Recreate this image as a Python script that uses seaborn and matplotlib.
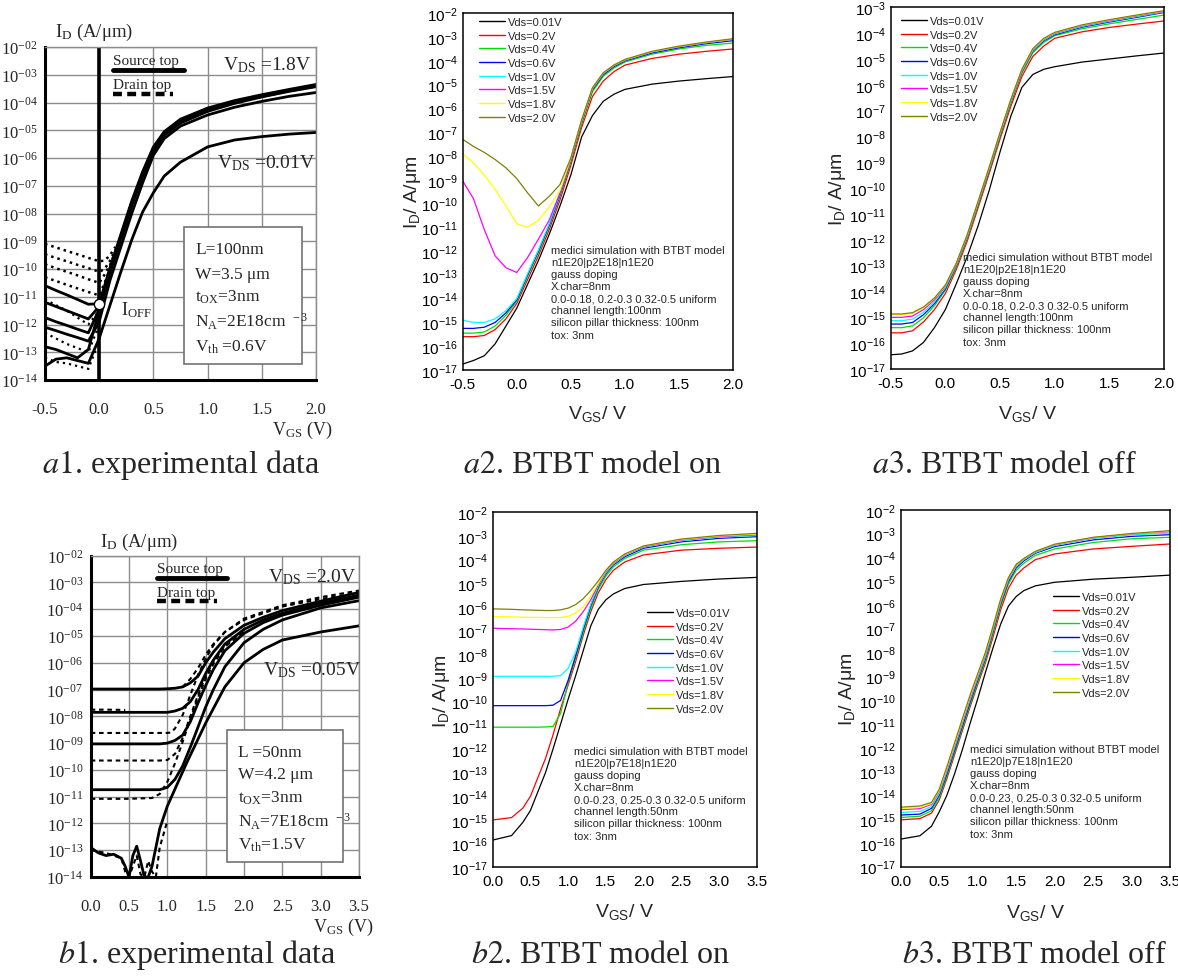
import numpy as np
import pandas as pd
import matplotlib
matplotlib.use("Agg")
import matplotlib.pyplot as plt
import seaborn as sns
from matplotlib.lines import Line2D
from matplotlib.patches import Rectangle
from matplotlib.ticker import NullLocator

sns.set_style("white")
plt.rcParams["font.family"] = ["Liberation Sans", "DejaVu Sans"]
plt.rcParams["mathtext.fontset"] = "stix"

W, H = 1178, 979
SERIF = "Liberation Serif"

# ---------------------------------------------------------------- data
vds_labels = ["Vds=0.01V", "Vds=0.2V", "Vds=0.4V", "Vds=0.6V",
              "Vds=1.0V", "Vds=1.5V", "Vds=1.8V", "Vds=2.0V"]
vds_colors = ["#000000", "#ff0000", "#00e000", "#0000ff",
              "#00ffff", "#ff00ff", "#ffff00", "#808000"]

# a2 / a3 : L = 100 nm, log10(I_D)
x_a = [-0.5, -0.4, -0.3, -0.2, -0.1, 0.0, 0.1, 0.2, 0.3, 0.4,
       0.5, 0.6, 0.7, 0.8, 0.9, 1.0, 1.25, 1.5, 1.75, 2.0]
a2_logI = [
    [-16.75, -16.6, -16.4, -15.9, -15.15, -14.4, -13.4, -12.4, -11.3, -10.1, -8.8, -7.2, -6.3, -5.7, -5.4, -5.2, -4.98, -4.85, -4.75, -4.66],
    [-15.6, -15.6, -15.55, -15.3, -14.85, -14.2, -13.2, -12.2, -11.1, -9.85, -8.4, -6.8, -5.5, -4.85, -4.45, -4.18, -3.9, -3.72, -3.6, -3.5],
    [-15.45, -15.45, -15.4, -15.15, -14.7, -14.1, -13.05, -12.05, -10.95, -9.7, -8.25, -6.65, -5.3, -4.65, -4.3, -4.05, -3.72, -3.5, -3.35, -3.25],
    [-15.25, -15.25, -15.2, -15.0, -14.6, -14.05, -13.0, -12.0, -10.9, -9.62, -8.18, -6.58, -5.22, -4.58, -4.24, -4.0, -3.67, -3.45, -3.28, -3.15],
    [-14.9, -15.0, -15.0, -14.85, -14.5, -14.0, -12.95, -11.95, -10.85, -9.57, -8.13, -6.53, -5.17, -4.53, -4.2, -3.97, -3.63, -3.41, -3.24, -3.1],
    [-9.05, -9.8, -11.1, -12.2, -12.7, -12.9, -12.27, -11.5, -10.7, -9.55, -8.12, -6.52, -5.16, -4.52, -4.19, -3.96, -3.62, -3.4, -3.23, -3.09],
    [-7.9, -8.3, -8.8, -9.4, -10.1, -10.85, -11.0, -10.7, -10.15, -9.45, -8.1, -6.5, -5.15, -4.51, -4.18, -3.95, -3.61, -3.39, -3.22, -3.08],
    [-7.3, -7.6, -7.85, -8.15, -8.5, -8.95, -9.55, -10.1, -9.7, -9.2, -8.08, -6.48, -5.13, -4.5, -4.17, -3.94, -3.6, -3.38, -3.21, -3.07],
]
a3_logI = [
    [-16.45, -16.42, -16.3, -15.97, -15.4, -14.7, -13.7, -12.65, -11.45, -10.1, -8.6, -7.2, -6.1, -5.6, -5.4, -5.3, -5.12, -5.0, -4.88, -4.77],
    [-15.6, -15.6, -15.52, -15.18, -14.7, -14.08, -13.15, -12.05, -10.75, -9.45, -8.1, -6.82, -5.68, -4.9, -4.5, -4.2, -3.95, -3.78, -3.65, -3.53],
    [-15.4, -15.4, -15.33, -15.02, -14.55, -13.95, -13.05, -11.95, -10.65, -9.35, -8.0, -6.7, -5.55, -4.76, -4.36, -4.1, -3.83, -3.64, -3.47, -3.3],
    [-15.26, -15.26, -15.2, -14.9, -14.47, -13.9, -13.0, -11.9, -10.6, -9.3, -7.95, -6.65, -5.5, -4.7, -4.3, -4.06, -3.77, -3.57, -3.39, -3.2],
    [-15.13, -15.13, -15.07, -14.8, -14.4, -13.85, -12.97, -11.87, -10.57, -9.27, -7.92, -6.62, -5.47, -4.67, -4.27, -4.03, -3.74, -3.54, -3.36, -3.18],
    [-15.0, -15.0, -14.95, -14.7, -14.32, -13.8, -12.94, -11.84, -10.54, -9.24, -7.89, -6.59, -5.44, -4.64, -4.24, -4.0, -3.71, -3.51, -3.33, -3.16],
    [-14.9, -14.9, -14.85, -14.63, -14.27, -13.77, -12.92, -11.82, -10.52, -9.22, -7.87, -6.57, -5.42, -4.62, -4.22, -3.98, -3.69, -3.49, -3.31, -3.14],
    [-14.87, -14.87, -14.82, -14.6, -14.25, -13.75, -12.9, -11.8, -10.5, -9.2, -7.85, -6.55, -5.4, -4.6, -4.2, -3.97, -3.68, -3.48, -3.3, -3.13],
]

# b2 / b3 : L = 50 nm, log10(I_D)
x_b = [0.0, 0.25, 0.4, 0.5, 0.6, 0.7, 0.8, 0.9, 1.0, 1.1,
       1.2, 1.3, 1.4, 1.5, 1.6, 1.75, 2.0, 2.5, 3.0, 3.5]
b2_logI = [
    [-15.85, -15.66, -15.1, -14.6, -13.8, -13.0, -12.0, -10.95, -9.9, -8.9, -7.85, -6.8, -6.1, -5.7, -5.45, -5.22, -5.05, -4.92, -4.82, -4.75],
    [-15.0, -14.9, -14.5, -14.0, -13.2, -12.4, -11.4, -10.3, -9.3, -8.3, -7.2, -6.2, -5.4, -4.85, -4.45, -4.1, -3.8, -3.6, -3.52, -3.47],
    [-11.08, -11.08, -11.08, -11.08, -11.08, -11.07, -11.05, -10.5, -9.2, -8.15, -7.05, -6.05, -5.25, -4.7, -4.3, -3.95, -3.6, -3.37, -3.25, -3.2],
    [-10.17, -10.17, -10.17, -10.17, -10.17, -10.17, -10.15, -9.95, -9.1, -8.05, -6.95, -5.95, -5.15, -4.6, -4.22, -3.88, -3.52, -3.25, -3.1, -3.03],
    [-8.93, -8.93, -8.93, -8.93, -8.93, -8.93, -8.93, -8.9, -8.6, -7.9, -6.85, -5.88, -5.1, -4.55, -4.18, -3.83, -3.47, -3.2, -3.05, -2.98],
    [-6.9, -6.92, -6.93, -6.94, -6.95, -6.96, -6.97, -6.95, -6.85, -6.6, -6.2, -5.7, -5.05, -4.5, -4.15, -3.8, -3.45, -3.17, -3.02, -2.95],
    [-6.4, -6.42, -6.43, -6.44, -6.44, -6.45, -6.45, -6.44, -6.4, -6.25, -6.0, -5.55, -5.0, -4.47, -4.12, -3.78, -3.43, -3.15, -3.0, -2.92],
    [-6.08, -6.1, -6.12, -6.13, -6.14, -6.15, -6.15, -6.12, -6.05, -5.9, -5.65, -5.3, -4.9, -4.45, -4.1, -3.76, -3.42, -3.13, -2.98, -2.89],
]
b3_logI = [
    [-15.84, -15.7, -15.3, -14.7, -14.0, -13.1, -12.1, -11.0, -9.95, -8.85, -7.8, -6.8, -6.05, -5.65, -5.4, -5.2, -5.05, -4.92, -4.84, -4.75],
    [-15.03, -14.98, -14.75, -14.2, -13.3, -12.3, -11.3, -10.3, -9.35, -8.45, -7.35, -6.2, -5.3, -4.75, -4.45, -4.1, -3.86, -3.65, -3.54, -3.44],
    [-14.93, -14.88, -14.65, -14.1, -13.2, -12.2, -11.2, -10.2, -9.25, -8.35, -7.2, -6.05, -5.12, -4.55, -4.25, -3.92, -3.65, -3.38, -3.22, -3.16],
    [-14.83, -14.79, -14.55, -14.0, -13.1, -12.1, -11.1, -10.1, -9.15, -8.25, -7.1, -5.95, -5.02, -4.45, -4.15, -3.83, -3.55, -3.27, -3.12, -3.05],
    [-14.72, -14.68, -14.47, -13.93, -13.0, -12.0, -11.0, -10.0, -9.08, -8.18, -7.04, -5.88, -4.95, -4.38, -4.1, -3.8, -3.5, -3.21, -3.06, -2.98],
    [-14.6, -14.56, -14.38, -13.85, -12.93, -11.93, -10.93, -9.93, -9.02, -8.1, -6.98, -5.83, -4.9, -4.33, -4.07, -3.77, -3.47, -3.18, -3.02, -2.92],
    [-14.55, -14.51, -14.34, -13.8, -12.87, -11.87, -10.87, -9.87, -8.96, -8.05, -6.94, -5.79, -4.87, -4.31, -4.06, -3.76, -3.46, -3.17, -3.01, -2.9],
    [-14.5, -14.45, -14.3, -13.75, -12.8, -11.8, -10.8, -9.8, -8.9, -8.0, -6.9, -5.75, -4.85, -4.3, -4.05, -3.75, -3.45, -3.16, -3.0, -2.88],
]

# a1 : experimental, L = 100 nm
a1_x = [-0.5, -0.4, -0.3, -0.2, -0.1, 0.0, 0.1, 0.2, 0.3, 0.4, 0.5, 0.6, 0.75, 1.0, 1.25, 1.5, 1.75, 2.0]
a1_source_logI = [
    [-10.6, -10.77, -10.93, -11.1, -11.27, -11.25, -9.95, -8.75, -7.55, -6.5, -5.6, -5.05, -4.6, -4.2, -3.93, -3.72, -3.53, -3.35],
    [-11.2, -11.35, -11.5, -11.65, -11.8, -11.35, -10.02, -8.82, -7.62, -6.56, -5.65, -5.1, -4.65, -4.25, -3.97, -3.75, -3.56, -3.38],
    [-11.75, -11.9, -12.03, -12.17, -12.3, -11.45, -10.08, -8.88, -7.68, -6.62, -5.7, -5.15, -4.7, -4.29, -4.0, -3.78, -3.58, -3.41],
    [-12.8, -12.9, -13.05, -13.2, -12.9, -11.5, -10.12, -8.92, -7.72, -6.66, -5.74, -5.18, -4.74, -4.32, -4.03, -3.8, -3.6, -3.43],
    [-12.1, -12.22, -12.35, -12.47, -12.6, -11.9, -10.4, -9.2, -8.0, -6.9, -5.9, -5.3, -4.85, -4.45, -4.17, -3.96, -3.78, -3.64],
    [-13.5, -13.25, -13.2, -13.3, -13.4, -12.5, -11.3, -10.1, -8.95, -7.95, -7.25, -6.65, -6.15, -5.6, -5.35, -5.23, -5.14, -5.08],
]
a1_drain_x = [-0.5, -0.4, -0.3, -0.2, -0.1, 0.0, 0.05, 0.1, 0.15]
a1_drain_logI = [
    [-9.1, -9.22, -9.35, -9.47, -9.6, -9.72, -9.7, -9.5, -9.2],
    [-9.47, -9.6, -9.72, -9.85, -9.97, -10.1, -10.0, -9.7, -9.3],
    [-9.83, -9.97, -10.1, -10.23, -10.37, -10.5, -10.2, -9.85, -9.35],
    [-10.3, -10.43, -10.57, -10.7, -10.83, -10.95, -10.5, -10.0, -9.45],
]
a1_drain_low_x = [-0.5, -0.4, -0.3, -0.2, -0.1, 0.0]
a1_drain_low_logI = [
    [-11.1, -11.3, -11.5, -11.75, -12.0, -11.5],
    [-12.3, -12.5, -12.7, -12.85, -13.0, -12.0],
    [-13.2, -13.35, -13.4, -13.5, -13.6, -12.6],
]
ioff_v, ioff_logI = 0.0, -11.27

# b1 : experimental, L = 50 nm
b1_x = [0.0, 0.5, 0.8, 0.9, 1.0, 1.1, 1.2, 1.3, 1.4, 1.5, 1.6, 1.75, 2.0, 2.25, 2.5, 3.0, 3.5]
b1_source_logI = [
    [-6.98, -6.98, -6.98, -6.98, -6.97, -6.95, -6.9, -6.75, -6.5, -6.0, -5.6, -5.1, -4.6, -4.3, -4.05, -3.7, -3.37],
    [-7.85, -7.85, -7.85, -7.85, -7.85, -7.8, -7.7, -7.45, -7.0, -6.4, -5.9, -5.3, -4.75, -4.4, -4.15, -3.78, -3.47],
    [-9.03, -9.03, -9.03, -9.03, -9.0, -8.9, -8.7, -8.2, -7.5, -6.85, -6.25, -5.55, -4.9, -4.5, -4.22, -3.85, -3.55],
    [-10.74, -10.74, -10.74, -10.74, -10.65, -10.35, -9.85, -9.15, -8.4, -7.65, -7.0, -6.15, -5.25, -4.75, -4.4, -3.95, -3.68],
]
b1_low_x = [0.0, 0.1, 0.2, 0.3, 0.4, 0.45, 0.5, 0.55, 0.6, 0.65, 0.7, 0.75, 0.8, 0.9, 1.0,
            1.25, 1.5, 1.75, 2.0, 2.25, 2.5, 3.0, 3.5]
b1_low_logI = [-12.9, -13.1, -13.2, -13.15, -13.3, -13.6, -14.0, -13.2, -12.85, -13.4, -14.0, -14.0,
               -13.6, -12.2, -11.35, -9.75, -8.25, -6.9, -6.0, -5.5, -5.15, -4.85, -4.62]
b1_drain = [
    ([0.0, 0.2, 0.45], [-7.75, -7.75, -7.76]),
    ([0.0, 0.5, 0.8, 1.0, 1.05, 1.1, 1.2, 1.3, 1.4, 1.5, 1.6, 1.75, 2.0, 2.5, 3.0, 3.5],
     [-8.62, -8.62, -8.62, -8.62, -8.6, -8.45, -7.95, -7.2, -6.45, -5.85, -5.35, -4.85, -4.4, -3.9, -3.62, -3.38]),
    ([0.0, 0.5, 0.9, 1.0, 1.1, 1.2, 1.3, 1.4, 1.5, 1.6, 1.75, 2.0],
     [-9.65, -9.65, -9.65, -9.63, -9.4, -8.8, -8.0, -7.2, -6.5, -5.95, -5.35, -4.8]),
    ([0.0, 0.5, 0.8, 0.9, 1.0, 1.1, 1.2, 1.3, 1.4, 1.5, 1.6, 1.75, 2.0],
     [-11.08, -11.08, -11.05, -10.9, -10.45, -9.75, -8.95, -8.1, -7.3, -6.6, -6.05, -5.4, -4.85]),
    ([1.2, 1.3, 1.4, 1.5, 1.6, 1.75, 2.0, 2.5, 3.0, 3.5],
     [-6.9, -6.6, -6.2, -5.7, -5.3, -4.85, -4.35, -3.85, -3.55, -3.3]),
    ([0.0, 0.2, 0.4, 0.45, 0.5, 0.55, 0.6, 0.65, 0.7, 0.75, 0.8, 0.85, 0.9, 1.0],
     [-13.0, -13.1, -13.3, -13.8, -14.0, -13.6, -13.2, -13.9, -14.0, -13.4, -13.8, -14.0, -12.9, -11.9]),
]

note_common = ["gauss doping", "X.char=8nm"]
a2_note = ["medici simulation with BTBT model", "n1E20|p2E18|n1E20"] + note_common + \
          ["0.0-0.18, 0.2-0.3 0.32-0.5 uniform", "channel length:100nm",
           "silicon pillar thickness: 100nm", "tox: 3nm"]
a3_note = ["medici simulation without BTBT model"] + a2_note[1:]
b2_note = ["medici simulation with BTBT model", "n1E20|p7E18|n1E20"] + note_common + \
          ["0.0-0.23, 0.25-0.3 0.32-0.5 uniform", "channel length:50nm",
           "silicon pillar thickness: 100nm", "tox: 3nm"]
b3_note = ["medici simulation without BTBT model"] + b2_note[1:]

# ---------------------------------------------------------------- figure
fig = plt.figure(figsize=(W / 100, H / 100), dpi=100)
fig.patch.set_facecolor("white")


def FX(x):
    return x / W


def FY(y):
    return 1 - y / H


def make_axes(l, t, r, b):
    return fig.add_axes([l / W, 1 - b / H, (r - l) / W, (b - t) / H])


def ftext(x, y, s, serif=False, **kw):
    if serif:
        kw.setdefault("family", SERIF)
    return fig.text(FX(x), FY(y), s, **kw)


def trace(ax, x, logI, **kw):
    sns.lineplot(x=np.asarray(x, float), y=10.0 ** np.asarray(logI, float), ax=ax,
                 estimator=None, sort=False, legend=False, **kw)


def sim_panel(box, x, curves, xlim, xticks, ylo, yhi, leg_xy, note_xy, note,
              ylab_x, xlab_y):
    ax = make_axes(*box)
    ax.set_yscale("log")
    df = pd.DataFrame({
        "Vgs": np.tile(np.asarray(x, float), len(curves)),
        "Id": 10.0 ** np.asarray(curves, float).ravel(),
        "Vds": np.repeat(vds_labels, len(x)),
    })
    sns.lineplot(data=df, x="Vgs", y="Id", hue="Vds", hue_order=vds_labels,
                 palette=vds_colors, estimator=None, linewidth=0.9, legend=False, ax=ax)
    ax.set_xlim(*xlim)
    ax.set_ylim(10.0 ** ylo, 10.0 ** yhi)
    ax.set_xticks(xticks)
    ax.set_xticklabels(["%.1f" % v for v in xticks])
    exps = list(range(ylo, yhi + 1))
    ax.set_yticks([10.0 ** e for e in exps])
    ax.set_yticklabels([r"$\mathregular{10^{%d}}$" % e for e in exps])
    ax.yaxis.set_minor_locator(NullLocator())
    ax.xaxis.set_minor_locator(NullLocator())
    ax.tick_params(axis="both", direction="out", length=2.5, width=0.9,
                   labelsize=11, colors="k")
    ax.tick_params(axis="y", pad=1)
    ax.tick_params(axis="x", pad=2.5)
    for sp in ax.spines.values():
        sp.set_color("k")
        sp.set_linewidth(1.1)
    ax.set_xlabel(r"$\mathregular{V_{GS}}$/ V", fontsize=14)
    ax.xaxis.set_label_coords(0.5, xlab_y)
    ax.set_ylabel(r"$\mathregular{I_D}$/ A/μm", fontsize=14)
    ax.yaxis.set_label_coords(ylab_x, 0.5)
    handles = [Line2D([], [], color=c, lw=1.0) for c in vds_colors]
    ax.legend(handles, vds_labels, loc="upper left",
              bbox_to_anchor=(FX(leg_xy[0]), FY(leg_xy[1])), bbox_transform=fig.transFigure,
              frameon=False, fontsize=8, handlelength=2.35, handletextpad=0.3,
              labelspacing=0.33, borderpad=0, borderaxespad=0)
    ftext(note_xy[0], note_xy[1], "\n".join(note), fontsize=8, va="top", ha="left",
          linespacing=1.26)
    return ax


def exp_axes(box, xlim, xticks):
    ax = make_axes(*box)
    ax.set_yscale("log")
    ax.set_xlim(*xlim)
    ax.set_ylim(1e-14, 1e-2)
    ax.set_xticks(xticks)
    ax.set_xticklabels(["%.1f" % v for v in xticks], fontfamily=SERIF, fontsize=12)
    exps = list(range(-14, -1))
    ax.set_yticks([10.0 ** e for e in exps])
    ax.set_yticklabels([r"$\mathregular{10^{-%02d}}$" % (-e) for e in exps],
                       fontfamily=SERIF, fontsize=12)
    ax.yaxis.set_minor_locator(NullLocator())
    ax.grid(True, which="major", color="0.55", lw=1.0)
    ax.set_axisbelow(True)
    ax.tick_params(axis="y", length=0, pad=5.5)
    ax.tick_params(axis="x", direction="out", length=6, width=2.5, pad=9)
    for side in ("left", "bottom"):
        ax.spines[side].set_color("k")
        ax.spines[side].set_linewidth(2.2)
    for side in ("top", "right"):
        ax.spines[side].set_color("0.55")
        ax.spines[side].set_linewidth(1.0)
    ax.set_xlabel("")
    ax.set_ylabel("")
    return ax


def info_box(x0, y0, x1, y1, lines, tx, ty):
    fig.add_artist(Rectangle((FX(x0), FY(y1)), (x1 - x0) / W, (y1 - y0) / H,
                             transform=fig.transFigure, facecolor="white",
                             edgecolor="0.45", lw=1.2, zorder=2))
    for s, yy in zip(lines, ty):
        ftext(tx, yy, s, serif=True, fontsize=12.5, va="center", ha="left", zorder=3)


def key(x, ys, xe_solid, xe_dash, ydash, ytext_s, ytext_d):
    ftext(x, ytext_s, "Source top", serif=True, fontsize=11, va="center")
    fig.add_artist(Line2D([FX(x), FX(xe_solid)], [FY(ys), FY(ys)],
                          transform=fig.transFigure, color="k", lw=3.5))
    ftext(x, ytext_d, "Drain top", serif=True, fontsize=11, va="center")
    fig.add_artist(Line2D([FX(x), FX(xe_dash)], [FY(ydash), FY(ydash)],
                          transform=fig.transFigure, color="k", lw=3.2,
                          linestyle=(0, (2.0, 1.2))))


# ---------------- a1
ax = exp_axes((45, 48, 316, 381), (-0.5, 2.0), [-0.5, 0.0, 0.5, 1.0, 1.5, 2.0])
ax.axvline(0.0, color="k", lw=2.6, zorder=1.5)
for c in a1_drain_logI:
    trace(ax, a1_drain_x, c, color="k", lw=1.8, linestyle=(0, (1, 1.6)))
for c in a1_drain_low_logI:
    trace(ax, a1_drain_low_x, c, color="k", lw=1.6, linestyle=(0, (1, 1.8)))
for c in a1_source_logI:
    trace(ax, a1_x, c, color="k", lw=2.0)
sns.scatterplot(x=[ioff_v], y=[10.0 ** ioff_logI], ax=ax, s=55, color="white",
                edgecolor="k", linewidth=1.0, zorder=6, legend=False)
ax.set_xlabel("")
ax.set_ylabel("")
ftext(55, 32, r"$\mathregular{I_D}$ (A/μm)", serif=True, fontsize=13.5, va="center")
ftext(272, 430, r"$\mathregular{V_{GS}}$ (V)", serif=True, fontsize=13, va="center")
ftext(223, 65, r"$\mathregular{V_{DS}}$ =1.8V", serif=True, fontsize=14, va="center")
ftext(217, 163, r"$\mathregular{V_{DS}}$ =0.01V", serif=True, fontsize=14, va="center")
ftext(121, 310, r"$\mathregular{I_{OFF}}$", serif=True, fontsize=13, va="center")
key(113, 71, 184, 173, 95, 61, 85)
info_box(184, 228, 302, 365,
         ["L=100nm", "W=3.5 μm", r"$\mathregular{t_{OX}}$=3nm",
          r"$\mathregular{N_A}$=2E18$\mathregular{cm^{\ \ -3}}$", r"$\mathregular{V_{th}}$ =0.6V"],
         195, [250, 275, 297, 322, 347])

# ---------------- b1
ax = exp_axes((90.7, 556.7, 359, 878), (0.0, 3.5), [0.0, 0.5, 1.0, 1.5, 2.0, 2.5, 3.0, 3.5])
for xs, c in b1_drain:
    trace(ax, xs, c, color="k", lw=1.5, linestyle=(0, (2.2, 1.8)))
for c in b1_source_logI:
    trace(ax, b1_x, c, color="k", lw=2.0)
trace(ax, b1_low_x, b1_low_logI, color="k", lw=2.0)
ax.set_xlabel("")
ax.set_ylabel("")
ftext(100, 542, r"$\mathregular{I_D}$ (A/μm)", serif=True, fontsize=13.5, va="center")
ftext(313, 927, r"$\mathregular{V_{GS}}$ (V)", serif=True, fontsize=13, va="center")
ftext(268, 577, r"$\mathregular{V_{DS}}$ =2.0V", serif=True, fontsize=14, va="center")
ftext(263, 670, r"$\mathregular{V_{DS}}$ =0.05V", serif=True, fontsize=14, va="center")
key(157, 579, 227, 217, 602, 569, 593)
info_box(227, 731, 343, 863,
         ["L =50nm", "W=4.2 μm", r"$\mathregular{t_{OX}}$=3nm",
          r"$\mathregular{N_A}$=7E18$\mathregular{cm^{\ \ -3}}$", r"$\mathregular{V_{th}}$=1.5V"],
         238, [753, 775, 798, 822, 845])

# ---------------- simulations
sim_panel((462.7, 14.3, 733, 371), x_a, a2_logI, (-0.5, 2.0), [-0.5, 0.0, 0.5, 1.0, 1.5, 2.0],
          -17, -2, (479, 18), (551, 246), a2_note, -0.147, -0.093)
sim_panel((890.7, 8.3, 1164, 370), x_a, a3_logI, (-0.5, 2.0), [-0.5, 0.0, 0.5, 1.0, 1.5, 2.0],
          -17, -3, (900.7, 17), (963, 253), a3_note, -0.156, -0.095)
sim_panel((492.7, 513.3, 756.7, 868.3), x_b, b2_logI, (0.0, 3.5),
          [0.0, 0.5, 1.0, 1.5, 2.0, 2.5, 3.0, 3.5], -17, -2, (647, 609), (574, 747), b2_note,
          -0.154, -0.095)
sim_panel((900.7, 510.7, 1170, 867.7), x_b, b3_logI, (0.0, 3.5),
          [0.0, 0.5, 1.0, 1.5, 2.0, 2.5, 3.0, 3.5], -17, -2, (1053, 593), (970, 745), b3_note,
          -0.159, -0.099)

# ---------------- captions
captions = [(181, 473, "a1", ". experimental data"), (593, 473, "a2", ". BTBT model on"),
            (1005, 473, "a3", ". BTBT model off"), (197, 963, "b1", ". experimental data"),
            (601, 963, "b2", ". BTBT model on"), (1035, 963, "b3", ". BTBT model off")]
for cx, cy, tag, rest in captions:
    ftext(cx, cy, r"$\mathit{%s}$%s" % (tag, rest), serif=True, fontsize=23,
          ha="center", va="baseline")

fig.savefig("out.png", dpi=100, facecolor="white")
